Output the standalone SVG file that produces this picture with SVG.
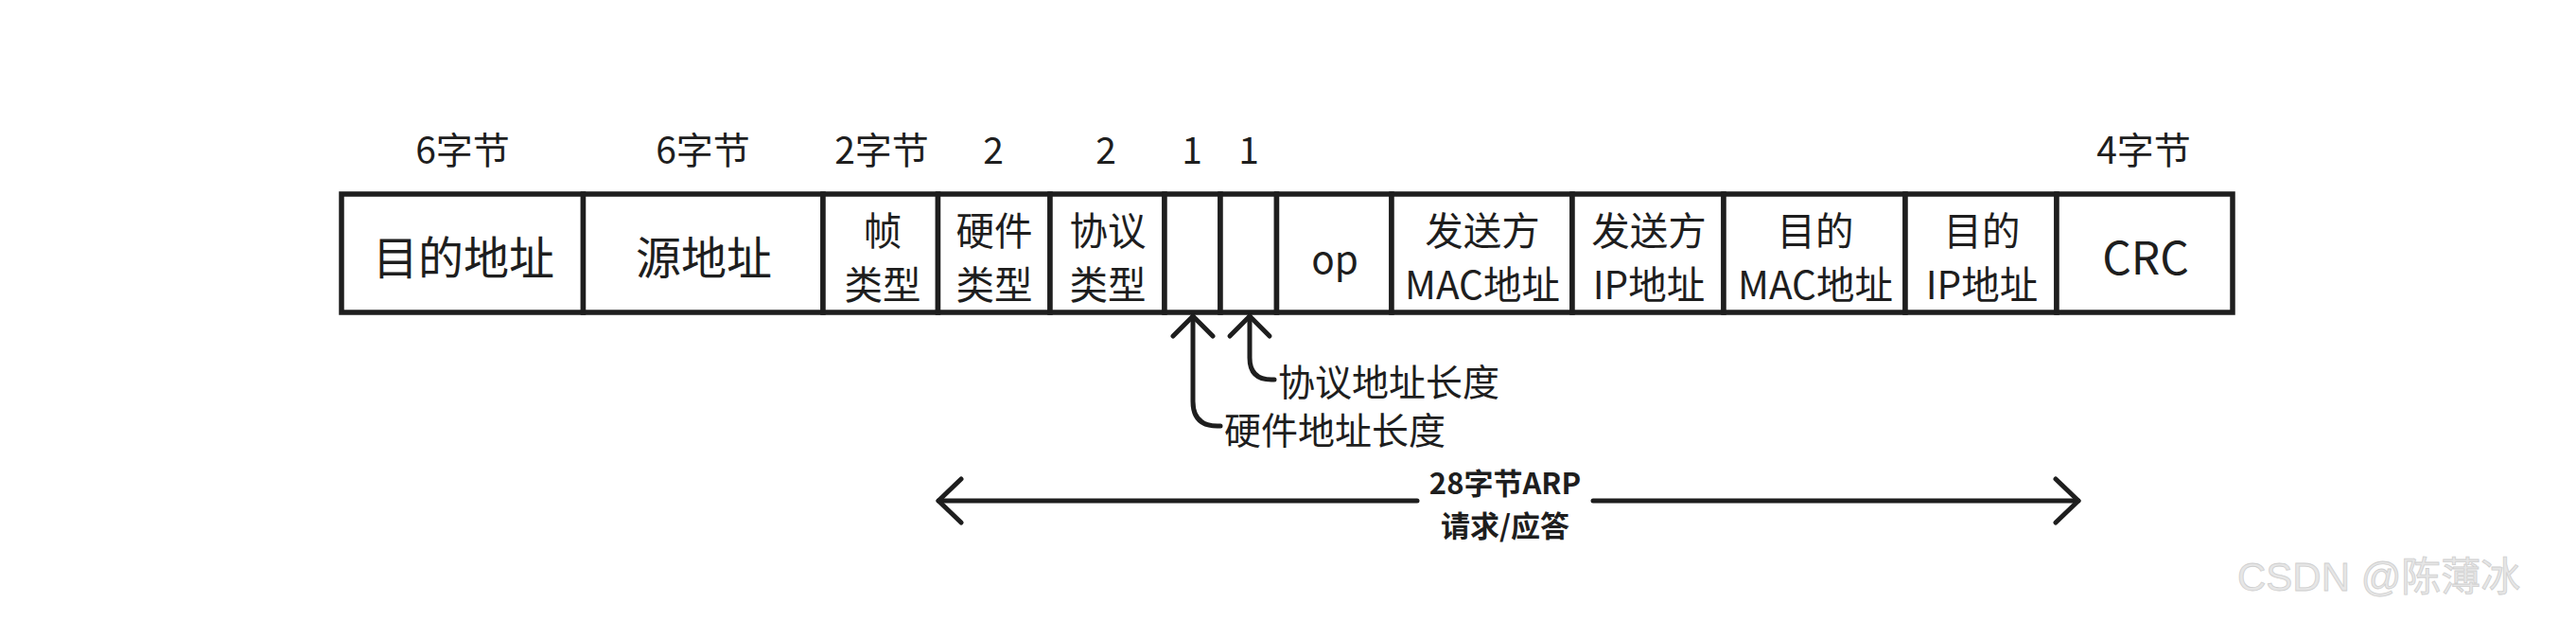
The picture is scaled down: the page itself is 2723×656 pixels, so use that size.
<svg xmlns="http://www.w3.org/2000/svg" width="2723" height="656" viewBox="0 0 2723 656">
<style>
.cell{fill:#ffffff;stroke:#1e1e1e;stroke-width:5.5}
.t{font-family:"Noto Sans CJK SC","Noto Sans",sans-serif;fill:#1e1e1e;text-anchor:middle;dominant-baseline:central}
.big{font-size:48px}
.mid{font-size:40.5px}
.top{font-size:39px}
.lbl{font-size:39px;text-anchor:start}
.arr{font-size:31px;font-weight:bold}
.ln{fill:none;stroke:#1e1e1e;stroke-width:5;stroke-linecap:round;stroke-linejoin:round}
.wm{font-family:"Liberation Sans","Noto Sans CJK SC",sans-serif;font-size:42px;fill:#e6e6e6;stroke:#cfcfcf;stroke-width:0.8}
</style>
<rect width="2723" height="656" fill="#ffffff"/>
<g id="size-labels">
<text class="t top" x="489" y="156">6字节</text>
<text class="t top" x="743" y="156">6字节</text>
<text class="t top" x="932" y="156">2字节</text>
<text class="t top" x="1050" y="156">2</text>
<text class="t top" x="1169" y="156">2</text>
<text class="t top" x="1260" y="156">1</text>
<text class="t top" x="1320" y="156">1</text>
<text class="t top" x="2266" y="156">4字节</text>
</g>
<g id="dst-addr"><rect class="cell" x="361" y="205" width="255.5" height="125"/><text class="t big" x="490" y="269">目的地址</text></g>
<g id="src-addr"><rect class="cell" x="616.5" y="205" width="253.5" height="125"/><text class="t big" x="744" y="269">源地址</text></g>
<g id="frame-type"><rect class="cell" x="870" y="205" width="121.5" height="125"/><text class="t mid" x="933" y="241">帧</text><text class="t mid" x="933" y="298">类型</text></g>
<g id="hw-type"><rect class="cell" x="991.5" y="205" width="118.5" height="125"/><text class="t mid" x="1051" y="241">硬件</text><text class="t mid" x="1051" y="298">类型</text></g>
<g id="proto-type"><rect class="cell" x="1110" y="205" width="121" height="125"/><text class="t mid" x="1171" y="241">协议</text><text class="t mid" x="1171" y="298">类型</text></g>
<g id="hw-len"><rect class="cell" x="1231" y="205" width="59" height="125"/></g>
<g id="proto-len"><rect class="cell" x="1290" y="205" width="59.5" height="125"/></g>
<g id="op"><rect class="cell" x="1349.5" y="205" width="121.5" height="125"/><text class="t mid" x="1411" y="271">op</text></g>
<g id="sender-mac"><rect class="cell" x="1471" y="205" width="191" height="125"/><text class="t mid" x="1567" y="241">发送方</text><text class="t mid" x="1567" y="298">MAC地址</text></g>
<g id="sender-ip"><rect class="cell" x="1662" y="205" width="160" height="125"/><text class="t mid" x="1743" y="241">发送方</text><text class="t mid" x="1743" y="298">IP地址</text></g>
<g id="target-mac"><rect class="cell" x="1822" y="205" width="192" height="125"/><text class="t mid" x="1919" y="241">目的</text><text class="t mid" x="1919" y="298">MAC地址</text></g>
<g id="target-ip"><rect class="cell" x="2014" y="205" width="160" height="125"/><text class="t mid" x="2095" y="241">目的</text><text class="t mid" x="2095" y="298">IP地址</text></g>
<g id="crc"><rect class="cell" x="2174" y="205" width="186" height="125"/><text class="t big" x="2268" y="269">CRC</text></g>
<g id="connectors">
<path class="ln" d="M1261 334 L1261 424 Q1261 450 1287 450 L1290 450"/>
<polyline class="ln" points="1240,355 1261,334 1282,355"/>
<path class="ln" d="M1321 334 L1321 378 Q1321 401 1344 401 L1347 401"/>
<polyline class="ln" points="1300,355 1321,334 1342,355"/>
<line class="ln" x1="992" y1="529" x2="1498" y2="529"/>
<line class="ln" x1="1684" y1="529" x2="2197" y2="529"/>
<polyline class="ln" points="1016,506 992,529 1016,552"/>
<polyline class="ln" points="2173,506 2197,529 2173,552"/>
</g>
<g id="length-labels">
<text class="t lbl" x="1351" y="401">协议地址长度</text>
<text class="t lbl" x="1294" y="452">硬件地址长度</text>
<text class="t arr" x="1591" y="508">28字节ARP</text>
<text class="t arr" x="1591" y="553">请求/应答</text>
</g>
<text class="wm" x="2365" y="624">CSDN @陈薄冰</text>
</svg>
